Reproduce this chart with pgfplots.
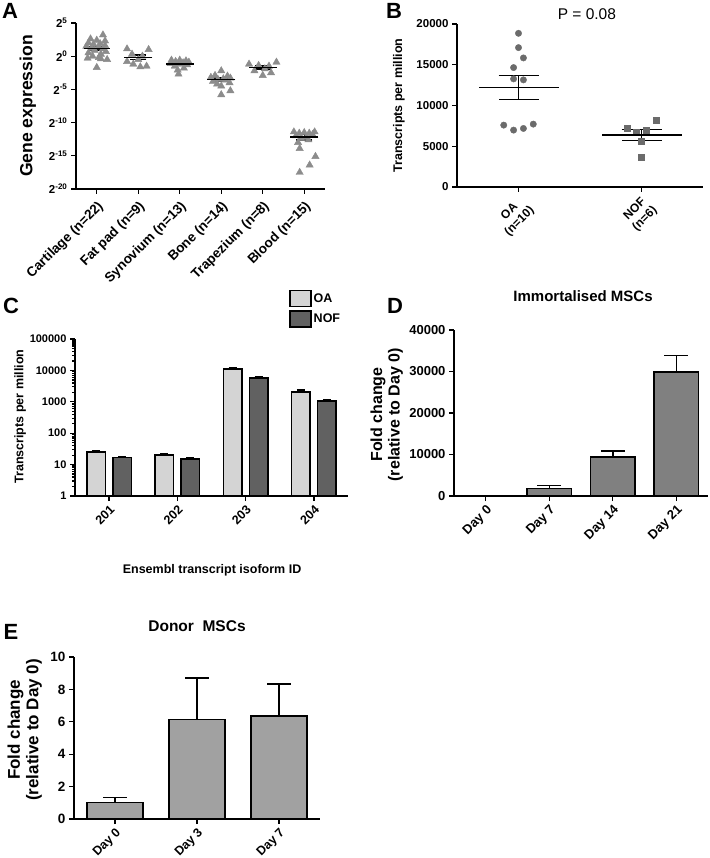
\documentclass[border=0pt]{standalone}
\usepackage{pgfplots}
\pgfplotsset{compat=1.18}
\usepackage{fontspec}
\setmainfont{Liberation Sans}
\newcommand{\fsz}[2]{\fontsize{#1}{#2}\selectfont}
\newcommand{\pw}[1]{2\textsuperscript{#1}}
\definecolor{triA}{gray}{0.55}
\definecolor{dotB}{gray}{0.42}
\definecolor{oaC}{gray}{0.83}
\definecolor{nofC}{gray}{0.38}
\definecolor{barD}{gray}{0.5}
\definecolor{barE}{gray}{0.63}
\pgfplotsset{
  panel/.style={scale only axis, axis lines*=left, enlargelimits=false,
    axis line style={line width=1.5pt}, tick style={line width=1.3pt, black},
    major tick length=5pt, tick align=outside,
    scaled y ticks=false, scaled x ticks=false,
    yticklabel style={font=\bfseries\fsz{11}{13}},
    xticklabel style={font=\bfseries\fsz{12.5}{14}, rotate=45, anchor=north east, inner sep=2pt},
    clip=false, anchor=north west},
  semstyle/.style={black, only marks, mark=-, mark options={line width=1.5pt},
    error bars/.cd, y dir=both, y explicit,
    error bar style={line width=1.5pt, black},
    error mark options={rotate=90, line width=1.5pt, black, mark size=#1}},
  barerr/.style={error bars/.cd, y dir=plus, y explicit,
    error bar style={line width=1.5pt, black},
    error mark options={rotate=90, line width=1.5pt, black, mark size=#1}},
}
\begin{document}
\begin{tikzpicture}
\useasboundingbox (0pt,0pt) rectangle (709pt,-858pt);
% panel letters
\node[font=\bfseries\fsz{22}{24}] at (10pt,-11pt) {A};
\node[font=\bfseries\fsz{22}{24}] at (394pt,-11pt) {B};
\node[font=\bfseries\fsz{22}{24}] at (11pt,-306pt) {C};
\node[font=\bfseries\fsz{22}{24}] at (395pt,-306pt) {D};
\node[font=\bfseries\fsz{22}{24}] at (11pt,-632pt) {E};

% ---------------- Panel A
\begin{axis}[panel, at={(76pt,-23pt)}, width=249pt, height=166pt,
  xmin=-0.5, xmax=5.5, ymin=-20, ymax=5,
  xtick={0,1,2,3,4,5},
  xticklabels={Cartilage (n=22), Fat pad (n=9), Synovium (n=13), Bone (n=14), Trapezium (n=8), Blood (n=15)},
  xticklabel style={font=\bfseries\fsz{13.5}{15}, inner sep=4pt},
  ytick={-20,-15,-10,-5,0,5},
  yticklabels={\pw{-20},\pw{-15},\pw{-10},\pw{-5},\pw{0},\pw{5}},
  yticklabel style={font=\bfseries\fsz{11.5}{13}},
  ylabel={Gene expression},
  ylabel style={font=\bfseries\fsz{17.6}{20}, at={(axis description cs:-0.193,0.5)}, anchor=center}]
\addplot[only marks, mark=triangle*, mark size=4.2pt, color=triA] coordinates {
 (0.15,3.2) (-0.15,2.6) (0.0,2.4) (0.2,2.3) (-0.2,2.0) (0.08,1.9) (-0.08,1.8) (0.2,1.6)
 (-0.25,1.5) (0.05,1.4) (-0.12,1.2) (0.15,1.1) (-0.05,0.9) (0.22,0.7) (-0.2,0.5) (0.1,0.3)
 (-0.1,0.0) (0.05,-0.2) (-0.22,-0.3) (0.1,-0.4) (0.25,-0.5) (0.0,-1.7)
 (0.73,1.1) (1.25,1.0) (0.85,0.3) (1.1,0.0) (1.0,-0.5) (0.73,-0.8) (0.88,-1.2) (1.05,-1.6) (1.2,-1.5)
 (1.8,-0.6) (2.0,-0.6) (2.15,-0.7) (1.9,-0.8) (2.22,-0.9) (2.08,-1.0) (1.78,-1.1) (2.0,-1.2)
 (2.18,-1.3) (1.88,-1.5) (2.1,-1.8) (1.95,-2.1) (1.97,-2.7)
 (3.0,-2.2) (2.85,-2.9) (3.15,-3.0) (2.75,-3.2) (3.22,-3.3) (3.05,-3.4) (2.92,-3.5) (3.1,-3.6)
 (2.8,-3.8) (3.2,-4.0) (2.9,-4.2) (3.0,-4.5) (3.22,-5.2) (3.0,-5.8)
 (4.33,-0.9) (3.67,-1.2) (3.9,-1.4) (4.15,-1.5) (4.05,-1.9) (3.8,-2.2) (4.2,-2.5) (4.0,-2.9)
 (4.75,-11.4) (5.25,-11.4) (5.0,-11.5) (4.88,-11.6) (5.12,-11.6) (5.2,-11.8) (4.8,-12.0)
 (5.05,-12.2) (4.92,-12.4) (5.1,-12.6) (4.85,-13.0) (4.89,-13.9) (5.27,-15.1) (5.13,-16.4) (4.89,-17.5)
};
\addplot[mark size=13pt, semstyle=8pt] coordinates {
 (0,1.19) +- (0,0.25)};
\addplot[mark size=14pt, semstyle=8pt] coordinates {
 (1,-0.17) +- (0,0.35)
 (2,-1.17) +- (0,0.15)
 (3,-3.53) +- (0,0.25)
 (4,-1.68) +- (0,0.25)
 (5,-12.2) +- (0,0.4)};
\end{axis}

% ---------------- Panel B
\begin{axis}[panel, at={(457pt,-24pt)}, width=246pt, height=163pt,
  xmin=-0.5, xmax=1.5, ymin=0, ymax=20000,
  xtick={0,1}, xticklabels={{OA\\(n=10)},{NOF\\(n=6)}},
  xticklabel style={align=center, font=\bfseries\fsz{12}{14}},
  ytick={0,5000,10000,15000,20000}, yticklabels={0,5000,10000,15000,20000},
  yticklabel style={font=\bfseries\fsz{11.5}{13}},
  ylabel={Transcripts per million},
  ylabel style={font=\bfseries\fsz{12.5}{14}, at={(axis description cs:-0.236,0.5)}, anchor=center},
  title={P = 0.08}, title style={font=\fsz{15.5}{17}, at={(axis description cs:0.528,1.025)}, anchor=center}]
\addplot[only marks, mark=*, mark size=3.2pt, color=dotB] coordinates {
 (0,18857) (0,17102) (0.04,15837) (-0.04,14653) (-0.04,13265) (0.04,13143)
 (-0.12,7592) (-0.04,6980) (0.04,7184) (0.12,7714)};
\addplot[only marks, mark=square*, mark size=3pt, color=dotB] coordinates {
 (0.88,7224) (0.96,6700) (1.04,7020) (1.12,8163) (1.0,5592) (1.0,3633)};
\addplot[mark size=40pt, semstyle=20pt] coordinates {
 (0,12200) +- (0,1450)
 (1,6400) +- (0,680)};
\end{axis}

% ---------------- Panel C
\begin{axis}[panel, at={(75pt,-339pt)}, width=273pt, height=157pt,
  xmin=-0.5, xmax=3.5, ymode=log, ymin=1, ymax=100000,
  xtick={0,1,2,3}, xticklabels={201,202,203,204},
  ytick={1,10,100,1000,10000,100000}, yticklabels={1,10,100,1000,10000,100000},
  minor ytick={}, log origin=0,
  ylabel={Transcripts per million},
  ylabel style={font=\bfseries\fsz{12.5}{14}, at={(axis description cs:-0.201,0.505)}, anchor=center},
  xlabel={Ensembl transcript isoform ID},
  xlabel style={font=\bfseries\fsz{12.5}{14}, at={(axis description cs:0.502,-0.471)}, anchor=center},
  legend style={at={(axis description cs:0.784,1.315)}, anchor=north west, draw=none, fill=none,
    font=\bfseries\fsz{12.5}{14}, row sep=3pt, inner sep=0pt},
  legend cell align=left]
\addplot[ybar, bar width=0.27, bar shift=0pt, fill=oaC, draw=black, line width=1.5pt,
  legend image code/.code={\draw[fill=oaC, draw=black, line width=1.5pt] (0pt,-8pt) rectangle (21pt,8pt);},
  barerr=4pt] coordinates {
 (-0.19,25.5) +- (0,2.5)
 (0.81,20) +- (0,2.5)
 (1.81,11000) +- (0,1000)
 (2.81,2018) +- (0,350)};
\addlegendentry{OA}
\addplot[ybar, bar width=0.27, bar shift=0pt, fill=nofC, draw=black, line width=1.5pt,
  legend image code/.code={\draw[fill=nofC, draw=black, line width=1.5pt] (0pt,-8pt) rectangle (21pt,8pt);},
  barerr=4pt] coordinates {
 (0.19,16.8) +- (0,1.5)
 (1.19,14.9) +- (0,1.2)
 (2.19,5650) +- (0,500)
 (3.19,1066) +- (0,140)};
\addlegendentry{NOF}
\end{axis}

% ---------------- Panel D
\begin{axis}[panel, at={(454pt,-330pt)}, width=254pt, height=166pt,
  xmin=-0.5, xmax=3.5, ymin=0, ymax=40000,
  xtick={0,1,2,3}, xticklabels={Day 0,Day 7,Day 14,Day 21},
  xticklabel style={font=\bfseries\fsz{13}{15}},
  ytick={0,10000,20000,30000,40000}, yticklabels={0,10000,20000,30000,40000},
  yticklabel style={font=\bfseries\fsz{13}{15}},
  ylabel={Fold change\\(relative to Day 0)},
  ylabel style={align=center, font=\bfseries\fsz{16}{17.5}, at={(axis description cs:-0.265,0.49)}, anchor=center},
  title={Immortalised MSCs},
  title style={font=\bfseries\fsz{15}{17}, at={(axis description cs:0.508,1.17)}, anchor=center}]
\addplot[ybar, bar width=0.7, bar shift=0pt, fill=barD, draw=black, line width=1.5pt, barerr=12pt] coordinates {
 (0,1) +- (0,0)
 (1,1770) +- (0,805)
 (2,9416) +- (0,1370)
 (3,29940) +- (0,3940)};
\end{axis}

% ---------------- Panel E
\begin{axis}[panel, at={(74pt,-657pt)}, width=246pt, height=162pt,
  xmin=-0.5, xmax=2.5, ymin=0, ymax=10,
  xtick={0,1,2}, xticklabels={Day 0,Day 3,Day 7},
  xticklabel style={font=\bfseries\fsz{12.5}{14}},
  ytick={0,2,4,6,8,10}, yticklabels={0,2,4,6,8,10},
  yticklabel style={font=\bfseries\fsz{13.5}{15}},
  ylabel={Fold change\\(relative to Day 0)},
  ylabel style={align=center, font=\bfseries\fsz{17}{18.5}, at={(axis description cs:-0.2,0.55)}, anchor=center},
  title={Donor\ \ MSCs},
  title style={font=\bfseries\fsz{15.5}{17}, at={(axis description cs:0.5,1.154)}, anchor=center}]
\addplot[ybar, bar width=0.68, bar shift=0pt, fill=barE, draw=black, line width=1.5pt, barerr=12pt] coordinates {
 (0,1.02) +- (0,0.31)
 (1,6.15) +- (0,2.56)
 (2,6.35) +- (0,1.99)};
\end{axis}
\end{tikzpicture}
\end{document}
